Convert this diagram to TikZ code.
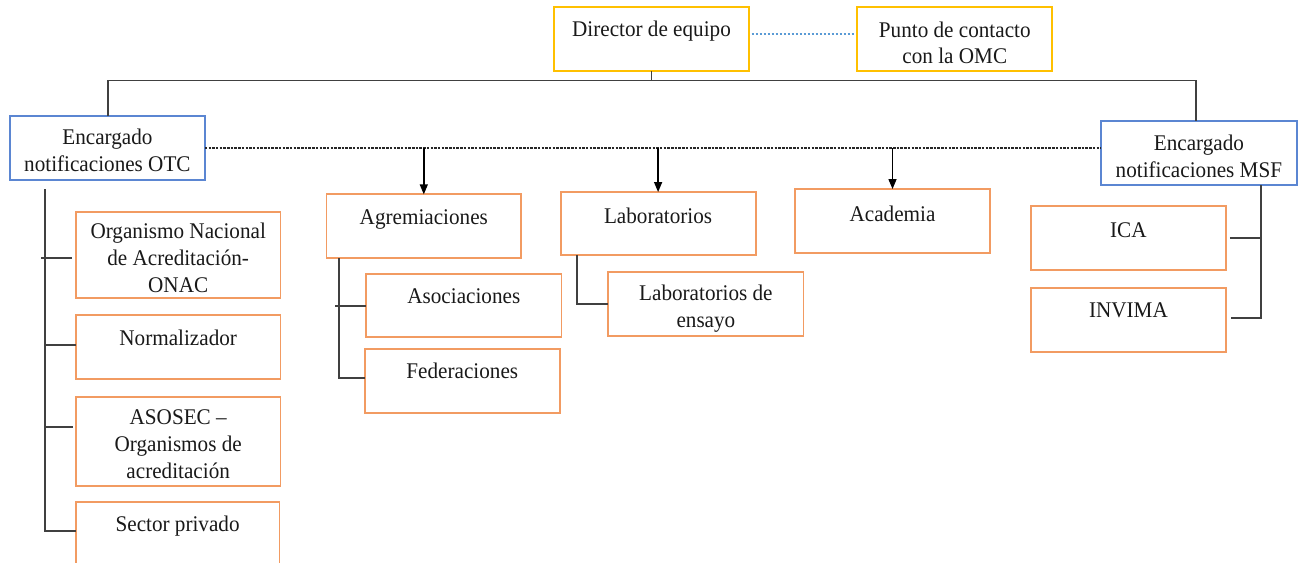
\documentclass[tikz,border=0pt]{standalone}
\usepackage{fontspec}
\setmainfont{Liberation Serif}
\newfontfamily\tnrfont{Liberation Serif}[FakeStretch=0.945]
\usetikzlibrary{arrows.meta}
\definecolor{boxorange}{HTML}{F29B62}
\definecolor{boxyellow}{HTML}{FFC000}
\definecolor{boxblue}{HTML}{5B86D2}
\definecolor{dotblue}{HTML}{5B9BD5}
\definecolor{linegray}{HTML}{404040}
\begin{document}
\begin{tikzpicture}[x=1pt,y=-1pt,
  every node/.style={inner sep=0pt, outer sep=0pt},
  sz/.style 2 args={minimum width=#1pt, minimum height=#2pt},
  boxbase/.style={draw, line width=1.8pt, rectangle, inner sep=0pt},
  obox/.style={boxbase, draw=boxorange},
  ybox/.style={boxbase, draw=boxyellow},
  bluebox/.style={boxbase, draw=boxblue},
  txt/.style={anchor=north, align=center, font=\tnrfont\fontsize{22.4}{26.7}\selectfont, text=black!90},
  conn/.style={draw=linegray, line width=1.9pt},
  dashconn/.style={draw=black!85, line width=1.3pt, dash pattern=on 2.5pt off 1.2pt},
  bluedots/.style={draw=dotblue, line width=2.2pt, dash pattern=on 2pt off 2pt},
  arr/.style={draw=black, line width=1.4pt, -{Triangle[length=10pt,width=8pt]}}]
\useasboundingbox (0,0) rectangle (1300,562);
\clip (0,0) rectangle (1300,562);

% top level boxes
\node[ybox, sz={194.4}{63.7}] (dir) at (651.5,39.2) {};
\node[txt] (dirT) at (651.5,21) {Director de equipo};
\node[ybox, sz={194.9}{63.7}] (punto) at (954.8,39.2) {};
\node[txt] (puntoT) at (954.8,21.7) {Punto de contacto\\con la OMC};

\node[bluebox, sz={194.8}{64}] (otc) at (107.4,148) {};
\node[txt] (otcT) at (107.4,129) {Encargado\\notificaciones OTC};
\node[bluebox, sz={195.8}{64}] (msf) at (1198.9,153) {};
\node[txt] (msfT) at (1198.9,135) {Encargado\\notificaciones MSF};

% OTC children
\node[obox, sz={204.7}{86}] (onac) at (178.2,254.7) {};
\node[txt] (onacT) at (178.2,223.3) {Organismo Nacional\\de Acreditación-\\ONAC};
\node[obox, sz={204.7}{63.7}] (norm) at (178.2,346.9) {};
\node[txt] (normT) at (178.2,330) {Normalizador};
\node[obox, sz={204.7}{88.4}] (asosec) at (178.2,441.5) {};
\node[txt] (asosecT) at (178.2,410) {ASOSEC –\\Organismos de\\acreditación};
\node[obox, sz={203.6}{80}] (sector) at (177.6,541.7) {};
\node[txt] (sectorT) at (177.6,516) {Sector privado};

% middle boxes
\node[obox, sz={194.8}{63.7}] (agrem) at (423.8,226.2) {};
\node[txt] (agremT) at (423.8,209.3) {Agremiaciones};
\node[obox, sz={195.2}{63.3}] (asoc) at (463.8,305.7) {};
\node[txt] (asocT) at (463.8,288.3) {Asociaciones};
\node[obox, sz={195.2}{63.4}] (fed) at (462.3,381) {};
\node[txt] (fedT) at (462.3,362.7) {Federaciones};

\node[obox, sz={195}{63.3}] (lab) at (658.1,223.7) {};
\node[txt] (labT) at (658.1,208.3) {Laboratorios};
\node[obox, sz={195.2}{63.7}] (labe) at (705.9,304.2) {};
\node[txt] (labeT) at (705.9,285) {Laboratorios de\\ensayo};

\node[obox, sz={195.1}{63.7}] (acad) at (892.5,220.9) {};
\node[txt] (acadT) at (892.5,206) {Academia};

% MSF children
\node[obox, sz={194.8}{64}] (ica) at (1128.4,238) {};
\node[txt] (icaT) at (1128.4,222.7) {ICA};
\node[obox, sz={194.8}{64}] (invima) at (1128.4,320.3) {};
\node[txt] (invimaT) at (1128.4,302.7) {INVIMA};

% top connectors
\coordinate (hl) at (107.8,80.5);
\coordinate (hr) at (1196.4,80.5);
\draw[conn] (otc.north -| hl) -- (hl) -- (hr) -- (msf.north -| hr);
\draw[conn] (dir.south) -- (dir.south |- hl);
\draw[bluedots] ([xshift=3pt,yshift=5pt]dir.east) -- ([xshift=-2pt,yshift=5pt]punto.west);

% dashed line and arrows
\draw[dashconn] (otc.east) -- ([yshift=5pt]msf.west);
\draw[arr] (agrem.north |- otc.east) -- (agrem.north);
\draw[arr] (lab.north |- otc.east) -- (lab.north);
\draw[arr] (acad.north |- otc.east) -- (acad.north);

% OTC tree
\coordinate (otop) at (44.8,189.3);
\coordinate (ob1) at (44.8,257.7);
\coordinate (ob2) at (44.8,345);
\coordinate (ob3) at (44.8,427.3);
\coordinate (ob4) at (44.8,530.7);
\draw[conn] (otop) -- (ob4) -- (sector.west |- ob4);
\draw[conn] ([xshift=-3.5pt]ob1) -- ([xshift=-4pt]onac.west |- ob1);
\draw[conn] (ob2) -- (norm.west |- ob2);
\draw[conn] (ob3) -- ([xshift=-3pt]asosec.west |- ob3);

% Agremiaciones tree
\coordinate (agb) at (338.7,378.3);
\draw[conn] (agrem.south -| agb) -- (agb) -- (fed.west |- agb);
\draw[conn] ([xshift=-3.5pt]asoc.west -| agb) -- (asoc.west);

% Laboratorios tree
\coordinate (lbx) at (577.3,305.7);
\draw[conn] (lab.south -| lbx) |- (labe.west);

% MSF tree
\coordinate (ms) at (1261,318.3);
\draw[conn] (msf.south -| ms) -- (ms) -- ([xshift=5pt]invima.east |- ms);
\draw[conn] ([xshift=4pt]ica.east) -- (ica.east -| ms);
\end{tikzpicture}
\end{document}
